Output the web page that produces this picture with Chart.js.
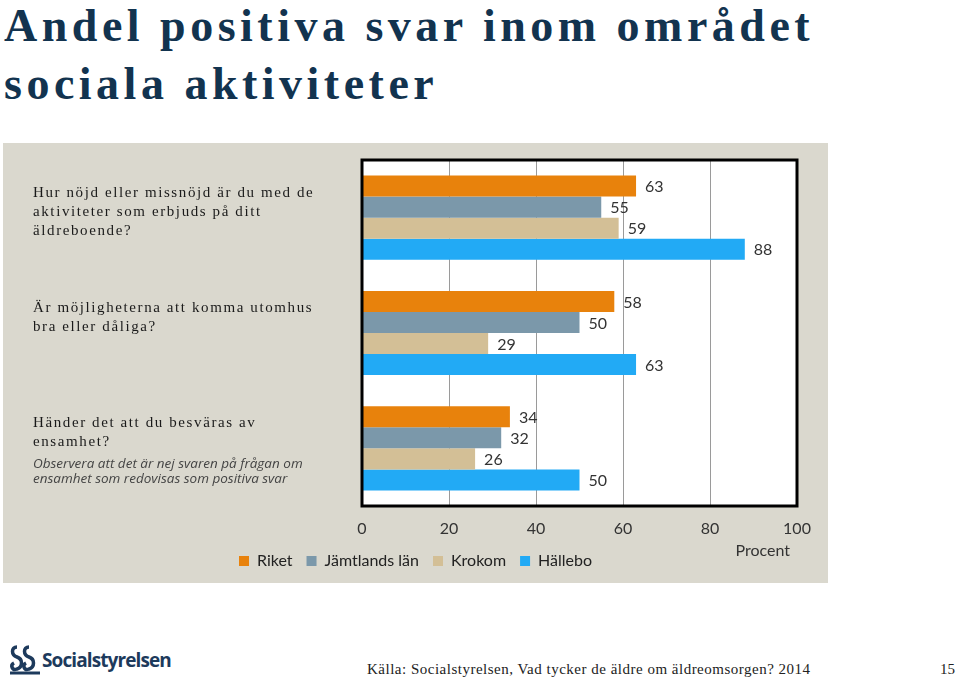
<!DOCTYPE html>
<html lang="sv">
<head>
<meta charset="utf-8">
<script src="https://cdn.jsdelivr.net/npm/chart.js@4.4.1/dist/chart.umd.min.js"></script>
<style>
  body { margin: 0; width: 960px; height: 683px; background: #fff; position: relative; overflow: hidden; font-family: "Liberation Serif", serif; }
  #rubrik { position: absolute; left: 4px; top: -3px; margin: 0; font-weight: bold; font-size: 46px; line-height: 58px; letter-spacing: 4.5px; color: #12334f; }
  #panel { position: absolute; left: 3px; top: 143px; width: 825px; height: 440px; background: #dad8ce; }
  #logo { position: absolute; left: 8px; top: 643px; display: flex; align-items: center; color: #1d3a5c; font-family: "Open Sans", sans-serif; font-weight: bold; font-size: 19px; letter-spacing: -0.9px; }
  #kalla { position: absolute; left: 367px; top: 661px; font-size: 15px; letter-spacing: 0.5px; color: #222; }
  #sida { position: absolute; left: 940px; top: 661px; font-size: 15px; color: #222; }
</style>
</head>
<body>
<h1 id="rubrik">Andel positiva svar inom området<br>sociala aktiviteter</h1>
<div id="panel"><canvas id="myChart" width="825" height="440"></canvas></div>
<div id="logo">
  <svg width="34" height="34" viewBox="0 0 34 34">
    <path d="M9 4 C3 4 3 12 9 14 C15 16 15 24 9 26 C4 28 2 22 6 20" fill="none" stroke="#1d3a5c" stroke-width="3.5"/>
    <path d="M21 4 C15 4 15 12 21 14 C27 16 27 24 21 26 C16 28 14 22 18 20" fill="none" stroke="#1d3a5c" stroke-width="3.5"/>
    <path d="M2 30 L32 30" stroke="#1d3a5c" stroke-width="3"/>
  </svg>
  <span>Socialstyrelsen</span>
</div>
<div id="kalla">Källa: Socialstyrelsen, Vad tycker de äldre om äldreomsorgen? 2014</div>
<div id="sida">15</div>

<script>
// Data
const kategorier = [
  ["Hur nöjd eller missnöjd är du med de", "aktiviteter som erbjuds på ditt", "äldreboende?"],
  ["Är möjligheterna att komma utomhus", "bra eller dåliga?"],
  ["Händer det att du besväras av", "ensamhet?"]
];
const notering = ["Observera att det är nej svaren på frågan om", "ensamhet som redovisas som positiva svar"];
const serier = ["Riket", "Jämtlands län", "Krokom", "Hällebo"];
const riket = [63, 58, 34];
const jamtland = [55, 50, 32];
const krokom = [59, 29, 26];
const hallebo = [88, 63, 50];
const xMin = 0;
const xMax = 100;
const xSteg = 20;
const axelTitel = "Procent";

// Färger
const farger = ["#e8820c", "#7b98aa", "#d3bf96", "#22aaf5"];

// Plugin: vit rityta, ram, värden och frågetexter
const panelPlugin = {
  id: "panel",
  beforeDraw(chart) {
    const { ctx, chartArea: a } = chart;
    ctx.save();
    ctx.fillStyle = "#fff";
    ctx.fillRect(a.left, a.top, a.right - a.left, a.bottom - a.top);
    ctx.restore();
  },
  afterDatasetsDraw(chart) {
    const { ctx, chartArea: a } = chart;
    ctx.save();
    ctx.strokeStyle = "#000";
    ctx.lineWidth = 3;
    ctx.strokeRect(a.left, a.top, a.right - a.left, a.bottom - a.top);

    // värden vid staplarna
    ctx.font = "16px Lato";
    ctx.fillStyle = "#333";
    ctx.textBaseline = "middle";
    chart.data.datasets.forEach((ds, i) => {
      chart.getDatasetMeta(i).data.forEach((bar, j) => {
        ctx.fillText(ds.data[j], bar.x + 9, bar.y + 1);
      });
    });

    // frågetexter till vänster
    const forsta = chart.getDatasetMeta(0).data;
    ctx.font = '15px "Liberation Serif"';
    ctx.letterSpacing = "1.6px";
    ctx.fillStyle = "#1a1a1a";
    kategorier.forEach((rader, j) => {
      const topp = forsta[j].y - forsta[j].height / 2;
      rader.forEach((rad, k) => {
        ctx.fillText(rad, 30, topp + 17 + k * 19);
      });
      if (j === kategorier.length - 1) {
        ctx.save();
        ctx.font = 'italic 13.5px "Open Sans"';
        ctx.letterSpacing = "0px";
        ctx.fillStyle = "#444";
        notering.forEach((rad, k) => ctx.fillText(rad, 30, topp + 58 + k * 15));
        ctx.restore();
      }
    });

    // axeltitel
    ctx.letterSpacing = "0px";
    ctx.font = "16px Lato";
    ctx.fillStyle = "#333";
    ctx.textAlign = "right";
    ctx.fillText(axelTitel, 787, 408);
    ctx.restore();
  }
};

function renderGrafica() {
  const datasets = [riket, jamtland, krokom, hallebo].map((varden, i) => ({
    label: serier[i],
    data: varden,
    backgroundColor: farger[i],
    borderWidth: 0,
    categoryPercentage: 0.73,
    barPercentage: 1
  }));

  const config = {
    type: "bar",
    data: { labels: kategorier, datasets: datasets },
    options: {
      indexAxis: "y",
      responsive: false,
      animation: false,
      layout: { padding: { left: 31, right: 31, top: 17, bottom: 4 } },
      scales: {
        x: {
          min: xMin,
          max: xMax,
          ticks: { stepSize: xSteg, padding: 13, color: "#333", font: { family: "Lato", size: 16 } },
          grid: { color: "#9a9a9a", drawTicks: false },
          border: { display: false },
          afterFit(scale) { scale.height = 33; }
        },
        y: {
          ticks: { display: false },
          grid: { display: false },
          border: { display: false },
          afterFit(scale) { scale.width = 328; }
        }
      },
      plugins: {
        legend: {
          position: "bottom",
          labels: { boxWidth: 10, boxHeight: 10, padding: 14, color: "#222", font: { family: "Lato", size: 16 } }
        },
        tooltip: { enabled: false }
      }
    },
    plugins: [panelPlugin]
  };

  new Chart(document.getElementById("myChart").getContext("2d"), config);
}

renderGrafica();
</script>
</body>
</html>
